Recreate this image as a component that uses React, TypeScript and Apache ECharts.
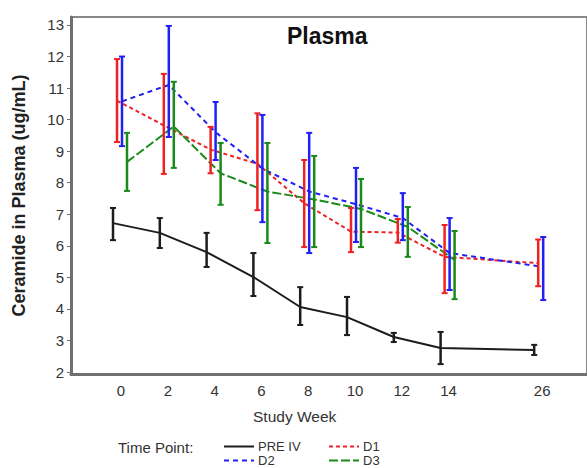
import React, { useEffect, useRef } from "react";
import * as echarts from "echarts";

// Category slots of the x axis (blank slot = gap before week 26)
const weekSlots = ["0", "2", "4", "6", "8", "10", "12", "14", "", "26"];
const weeks = ["0", "2", "4", "6", "8", "10", "12", "14", "26"];
const yTicks = [2, 3, 4, 5, 6, 7, 8, 9, 10, 11, 12, 13];

const preMean = [6.72, 6.41, 5.8, 5.01, 4.06, 3.74, 3.11, 2.76, 2.7];
const preLow = [6.18, 5.93, 5.33, 4.41, 3.49, 3.17, 2.95, 2.25, 2.54];
const preHigh = [7.2, 6.88, 6.41, 5.77, 4.69, 4.38, 3.24, 3.27, 2.86];

const d1Mean = [10.6, 9.82, 9.05, 8.6, 7.35, 6.45, 6.42, 5.65, 5.45];
const d1Low = [9.29, 8.28, 8.3, 7.13, 5.96, 5.8, 6.1, 4.5, 4.72];
const d1High = [11.92, 11.45, 9.77, 10.2, 8.72, 7.2, 6.85, 6.66, 6.2];

const d2Mean = [10.58, 11.1, 9.6, 8.45, 7.72, 7.32, 6.88, 5.77, 5.33];
const d2Low = [9.16, 9.45, 8.72, 6.75, 5.77, 6.12, 6.18, 4.6, 4.28];
const d2High = [12.0, 12.97, 10.56, 10.15, 9.58, 8.47, 7.67, 6.88, 6.28];

const d3Mean = [8.66, 9.78, 8.3, 7.72, 7.47, 7.17, 6.6, 5.55, null];
const d3Low = [7.74, 8.47, 7.3, 6.09, 5.96, 5.96, 5.65, 4.31, null];
const d3High = [9.58, 11.2, 9.26, 9.26, 8.85, 8.12, 7.23, 6.47, null];

const FONT = "Liberation Sans, Arial, sans-serif";
const SLOT_PX = 46.8;

type S = {
  name: string;
  mean: (number | null)[];
  low: (number | null)[];
  high: (number | null)[];
  color: string;
  dash: number[] | "solid";
  dodge: number; // px
  lw: number;
};

const seriesDefs: S[] = [
  { name: "PRE IV", mean: preMean, low: preLow, high: preHigh, color: "#1c1c1c", dash: "solid", dodge: -8, lw: 2 },
  { name: "D1", mean: d1Mean, low: d1Low, high: d1High, color: "#ee2222", dash: [4, 3], dodge: -4, lw: 2 },
  { name: "D2", mean: d2Mean, low: d2Low, high: d2High, color: "#2020f4", dash: [5, 4], dodge: 1, lw: 2 },
  { name: "D3", mean: d3Mean, low: d3Low, high: d3High, color: "#1a8a1a", dash: [9, 3], dodge: 6, lw: 2 },
];

export default function App() {
  const ref = useRef<HTMLDivElement>(null);
  useEffect(() => {
    document.body.style.margin = "0";
    const chart = echarts.init(ref.current!, null, { renderer: "svg" });
    const series: any[] = [];
    seriesDefs.forEach((s) => {
      const off = s.dodge / SLOT_PX;
      const lineData: any[] = [];
      const errData: any[] = [];
      weeks.forEach((w, i) => {
        const x = weekSlots.indexOf(w) + off;
        if (s.mean[i] != null) lineData.push([x, s.mean[i]]);
        if (s.low[i] != null) errData.push([x, s.low[i], s.high[i]]);
      });
      series.push({
        name: s.name,
        type: "line",
        data: lineData,
        symbol: "none",
        lineStyle: { color: s.color, width: s.lw, type: s.dash },
        itemStyle: { color: s.color },
        z: 3,
      });
      series.push({
        name: s.name + " error",
        type: "custom",
        data: errData,
        encode: { x: 0, y: [1, 2] },
        z: 4,
        renderItem: (params: any, api: any) => {
          const x = api.value(0);
          const pLo = api.coord([x, api.value(1)]);
          const pHi = api.coord([x, api.value(2)]);
          const cx = pLo[0];
          const hw = 3;
          const st = { stroke: s.color, lineWidth: 2.5 };
          return {
            type: "group",
            children: [
              { type: "line", shape: { x1: cx, y1: pHi[1], x2: cx, y2: pLo[1] }, style: st },
              { type: "line", shape: { x1: cx - hw, y1: pHi[1], x2: cx + hw, y2: pHi[1] }, style: { ...st, lineWidth: 2 } },
              { type: "line", shape: { x1: cx - hw, y1: pLo[1], x2: cx + hw, y2: pLo[1] }, style: { ...st, lineWidth: 2 } },
            ],
          };
        },
      });
    });

    const legendPos = [
      { name: "PRE IV", left: 223, top: 440 },
      { name: "D1", left: 328, top: 440 },
      { name: "D2", left: 223, top: 454 },
      { name: "D3", left: 328, top: 454 },
    ];

    const xMin = -50 / SLOT_PX;
    const xMax = xMin + 516 / SLOT_PX;

    chart.setOption({
      animation: false,
      backgroundColor: "#ffffff",
      title: {
        text: "Plasma",
        left: 282,
        top: 19,
        textStyle: { fontFamily: FONT, fontSize: 23, fontWeight: "bold", color: "#111" },
      },
      legend: legendPos.map((l) => ({
        data: [l.name],
        left: l.left,
        top: l.top,
        itemWidth: 30,
        itemHeight: 12,
        itemGap: 0,
        padding: 0,
        selectedMode: false,
        itemStyle: { opacity: 0 },
        textStyle: { fontFamily: FONT, fontSize: 13, lineHeight: 12, color: "#333", padding: [0, 0, 0, -1] },
      })),
      grid: {
        left: 71,
        top: 17,
        right: 0,
        bottom: 94,
        show: true,
        borderColor: "#888",
        borderWidth: 2,
      },
      xAxis: {
        type: "value",
        min: xMin,
        max: xMax,
        splitLine: { show: false },
        axisLine: { show: true, onZero: false, lineStyle: { color: "#707070", width: 3 } },
        axisTick: { show: false },
        axisLabel: {
          customValues: weeks.map((w) => weekSlots.indexOf(w)),
          formatter: (v: number) => weekSlots[Math.round(v)] ?? "",
          fontFamily: FONT,
          fontSize: 15,
          color: "#333",
          margin: 9,
        },
      },
      yAxis: {
        type: "value",
        min: 2 - 2 / 31.55,
        max: 13 + 8 / 31.55,
        splitLine: { show: false },
        axisLine: { show: true, onZero: false, lineStyle: { color: "#707070", width: 3 } },
        axisTick: { show: true, customValues: yTicks, length: 4, lineStyle: { color: "#707070" } },
        axisLabel: {
          customValues: yTicks,
          fontFamily: FONT,
          fontSize: 15,
          color: "#333",
          margin: 7,
        },
        name: "Ceramide in Plasma (ug/mL)",
        nameLocation: "middle",
        nameGap: 43,
        nameTextStyle: { fontFamily: FONT, fontSize: 18, fontWeight: "bold", color: "#222" },
      },
      graphic: [
        {
          type: "text",
          left: 253,
          top: 408,
          style: { text: "Study Week", fontFamily: FONT, fontSize: 15.5, fill: "#333" },
        },
        {
          type: "text",
          left: 118,
          top: 440,
          style: { text: "Time Point:", fontFamily: FONT, fontSize: 15, fill: "#333" },
        },
      ],
      series,
    });
    return () => chart.dispose();
  }, []);
  return <div ref={ref} style={{ position: "fixed", left: 0, top: 0, width: 587, height: 468 }} />;
}
